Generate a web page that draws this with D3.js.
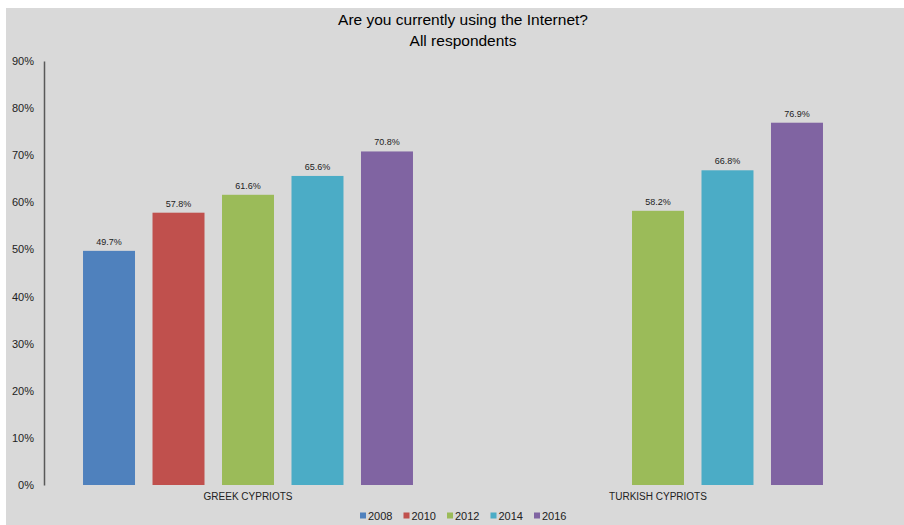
<!DOCTYPE html>
<html>
<head>
<meta charset="utf-8">
<script src="https://cdn.jsdelivr.net/npm/d3@7"></script>
<style>
  html, body { margin: 0; padding: 0; background: #ffffff; }
  svg { display: block; font-family: "Liberation Sans", Arial, sans-serif; }
</style>
</head>
<body>
<svg id="chart" width="904" height="525"></svg>
<script>
// Share of respondents currently using the Internet, by community and survey year
const groups = ["GREEK CYPRIOTS", "TURKISH CYPRIOTS"];
const years = ["2008", "2010", "2012", "2014", "2016"];
const colors = ["#4F81BD", "#C0504D", "#9BBB59", "#4BACC6", "#8064A2"];
const greekValues = [49.7, 57.8, 61.6, 65.6, 70.8];
const turkishValues = [null, null, 58.2, 66.8, 76.9];
const yTicks = [0, 10, 20, 30, 40, 50, 60, 70, 80, 90];

const seriesByGroup = [greekValues, turkishValues];
const records = [];
groups.forEach((g, gi) => {
  years.forEach((yr, yi) => {
    const v = seriesByGroup[gi][yi];
    if (v !== null) records.push({ group: g, year: yr, value: v });
  });
});

const svg = d3.select("#chart");
const W = 904, H = 525;

// panel background
svg.append("rect")
  .attr("x", 6).attr("y", 8)
  .attr("width", W - 6).attr("height", H - 8)
  .attr("fill", "#D9D9D9");

const plot = { left: 43, right: 863, top: 61, bottom: 485 };

const x0 = d3.scaleBand()
  .domain(groups)
  .range([plot.left, plot.right]);

const x1 = d3.scaleBand()
  .domain(years)
  .range([0, x0.bandwidth()])
  .paddingInner(0.252)
  .paddingOuter(0.576);

const y = d3.scaleLinear()
  .domain([0, 90])
  .range([plot.bottom, plot.top]);

const color = d3.scaleOrdinal().domain(years).range(colors);

// title
const title = svg.append("text")
  .attr("x", 463)
  .attr("text-anchor", "middle")
  .attr("font-size", 15.5)
  .attr("fill", "#000");
title.append("tspan").attr("x", 463).attr("y", 25).text("Are you currently using the Internet?");
title.append("tspan").attr("x", 463).attr("y", 46).text("All respondents");

// y axis
const yAxis = d3.axisLeft(y)
  .tickValues(yTicks)
  .tickSize(0)
  .tickPadding(10)
  .tickFormat(d => d + "%");

const yg = svg.append("g")
  .attr("transform", `translate(${plot.left + 1},0)`)
  .call(yAxis);
yg.select(".domain").attr("stroke", "#595959").attr("stroke-width", 1.5);
yg.selectAll("text").attr("font-size", 11).attr("fill", "#222")
  .attr("font-family", "'Liberation Sans', Arial, sans-serif");

// bars
const bars = svg.append("g");
bars.selectAll("rect")
  .data(records)
  .join("rect")
  .attr("x", d => x0(d.group) + x1(d.year))
  .attr("y", d => y(d.value))
  .attr("width", x1.bandwidth())
  .attr("height", d => y(0) - y(d.value))
  .attr("fill", d => color(d.year));

// value labels
bars.selectAll("text")
  .data(records)
  .join("text")
  .attr("x", d => x0(d.group) + x1(d.year) + x1.bandwidth() / 2)
  .attr("y", d => y(d.value) - 6)
  .attr("text-anchor", "middle")
  .attr("font-size", 9)
  .attr("fill", "#222")
  .text(d => d.value.toFixed(1) + "%");

// category labels
const xAxis = d3.axisBottom(x0).tickSize(0).tickPadding(8);
const xg = svg.append("g")
  .attr("transform", `translate(0,${plot.bottom})`)
  .call(xAxis);
xg.select(".domain").remove();
xg.selectAll("text").attr("font-size", 10).attr("fill", "#222")
  .attr("font-family", "'Liberation Sans', Arial, sans-serif");

// legend
const legendX = d3.scalePoint().domain(years).range([360, 534]);
const legend = svg.append("g");
const items = legend.selectAll("g")
  .data(years)
  .join("g")
  .attr("transform", d => `translate(${legendX(d)},516)`);
items.append("rect")
  .attr("x", 0).attr("y", -3.5)
  .attr("width", 6).attr("height", 6)
  .attr("fill", d => color(d));
items.append("text")
  .attr("x", 8).attr("y", 4)
  .attr("font-size", 11)
  .attr("fill", "#222")
  .text(d => d);
</script>
</body>
</html>
